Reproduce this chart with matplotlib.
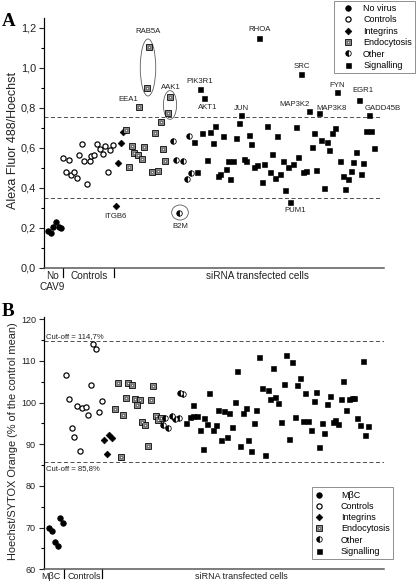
import matplotlib
matplotlib.use('Agg')
import matplotlib.pyplot as plt
from matplotlib.lines import Line2D
from matplotlib.patches import Ellipse

plt.rcParams['font.family'] = ['Liberation Sans', 'DejaVu Sans']

# ---------------- Panel A data ----------------
a_novirus_x = [4, 7, 9, 12, 15, 17]
a_novirus_y = [0.185, 0.175, 0.205, 0.23, 0.205, 0.20]

a_ctrl_x = [19.3, 25, 22, 27, 30.3, 32.7, 35, 37.7, 39.7, 43, 45.7, 47.3, 50.3, 53.3, 56, 58.7, 61.3, 63.7, 66.3, 69]
a_ctrl_y = [0.549, 0.54, 0.479, 0.464, 0.48, 0.45, 0.565, 0.62, 0.537, 0.42, 0.535, 0.562, 0.564, 0.619, 0.595,
            0.569, 0.61, 0.482, 0.59, 0.615]

a_int_x = [72, 74.3, 76.7, 78.7]
a_int_y = [0.31, 0.524, 0.624, 0.679]

a_endo_x = [105.3, 103, 95.3, 126, 123.7, 116.5, 82, 110.5, 87.5, 100.3, 118.5, 90, 93.5, 98, 121.3, 84.7, 108.2, 113.5]
a_endo_y = [1.107, 0.902, 0.805, 0.857, 0.777, 0.732, 0.688, 0.674, 0.612, 0.604, 0.597, 0.573, 0.565, 0.544,
            0.534, 0.507, 0.478, 0.487]

a_other_x = [128.7, 145, 131.7, 139.2, 142.5, 146.8, 135]
a_other_y = [0.635, 0.659, 0.541, 0.537, 0.445, 0.474, 0.277]

a_sig_x = [194.5, 171, 165.5, 157.7, 150.2, 168.5, 178.7, 191.5, 204.7, 207.2, 222.7, 233.3, 228.2, 162.8, 184,
           189.2, 199.5, 202.3, 182, 210.2, 212.7, 220.3, 238.5, 243.5, 225.5, 236, 231, 152.7, 176, 174, 186.3,
           217.7, 241.2, 251.7, 269.8, 288.3, 290.5, 322, 327, 277.3, 283, 267.5, 285.3, 330, 311.5, 254.2, 249,
           259.3, 262, 272.3, 296, 309, 319.3, 306.5, 298.5, 303.7, 316.7, 280.3, 301]
a_sig_y = [0.727, 0.71, 0.682, 0.674, 0.629, 0.625, 0.659, 0.648, 0.665, 0.619, 0.711, 0.659, 0.569, 0.542, 0.533,
           0.536, 0.547, 0.534, 0.495, 0.507, 0.513, 0.52, 0.534, 0.503, 0.482, 0.471, 0.451, 0.482, 0.469, 0.459,
           0.445, 0.429, 0.39, 0.707, 0.677, 0.677, 0.698, 0.684, 0.684, 0.638, 0.628, 0.603, 0.588, 0.6, 0.579,
           0.555, 0.519, 0.48, 0.487, 0.492, 0.534, 0.531, 0.524, 0.485, 0.459, 0.445, 0.468, 0.399, 0.395]

# labelled genes (name, x, value)
a_gene_names = ['RAB5A', 'EEA1', 'AAK1', 'PIK3R1', 'AKT1', 'RHOA', 'SRC', 'FYN', 'EGR1', 'MAP3K2', 'MAP3K8',
                'GADD45B', 'JUN', 'PUM1', 'ITGB6', 'B2M']
a_gene_x = [105.3, 95.3, 126, 155.5, 160.3, 215, 256.7, 293, 314.7, 264.7, 275, 324.5, 197, 246.2, 72, 135]
a_gene_y = [1.107, 0.805, 0.857, 0.894, 0.848, 1.149, 0.969, 0.882, 0.84, 0.784, 0.774, 0.765, 0.764, 0.33, 0.31, 0.277]
a_gene_is_sig = [False, False, False, True, True, True, True, True, True, True, True, True, True, True, False, False]
# label offsets in points (layout)
a_gene_off = [(-1, 15), (-11, 7), (1, 9.5), (0, 8), (3, -9.5), (1, 9), (1, 8), (0, 6.5), (4, 9), (-14, 7),
              (13, 5), (14, 6), (0, 6.5), (5, -9), (-1, -10.5), (1, -13.5)]

a_cut_hi, a_cut_lo = 0.755, 0.35
a_yticks = [0.0, 0.2, 0.4, 0.6, 0.8, 1.0, 1.2]
a_yticklabels = ['0,0', '0,2', '0,4', '0,6', '0,8', '1,0', '1,2']
a_legend = ['No virus', 'Controls', 'Integrins', 'Endocytosis', 'Other', 'Signalling']

# ---------------- Panel B data ----------------
b_mbc_x = [5.3, 8.3, 11, 13.7, 16.3, 19]
b_mbc_y = [70.0, 69.3, 66.6, 65.7, 72.2, 71.2]

b_ctrl_x = [22, 25, 27.7, 30.3, 33, 36, 38, 41.5, 44, 46.7, 49, 51.8, 54.8, 57.7]
b_ctrl_y = [106.7, 100.8, 94.0, 91.8, 99.2, 88.3, 98.6, 99.0, 97.05, 104.3, 114.0, 112.8, 97.7, 100.4]

b_int_x = [60, 63, 64.5, 68]
b_int_y = [91.0, 87.65, 92.1, 91.6]

b_endo_x = [73.5, 84.3, 87.7, 109.2, 82.2, 90.5, 95.7, 92.8, 106.5, 71.2, 79.3, 98.3, 101.2, 111.5, 114, 117.3, 103.5, 76.7]
b_endo_y = [104.75, 104.75, 104.15, 103.96, 101.0, 100.8, 100.65, 99.3, 100.7, 98.5, 96.9, 95.4, 94.56, 96.8, 95.9,
            96.2, 89.5, 86.9]

b_other_x = [121, 119, 124, 128, 130.5, 135, 136, 139]
b_other_y = [96.3, 94.7, 93.9, 96.8, 96.0, 96.2, 102.4, 102.0]

b_sig_x = [149.3, 141.7, 146, 149.3, 152.7, 160, 163.3, 155.5, 165.3, 158.5, 215, 242.3, 247.7, 318.7, 193.3, 228.7,
           255.7, 299.3, 239.7, 253.3, 217.7, 223.7, 261.3, 272, 226, 231.3, 234, 269.7, 285.7, 283, 296.7, 305,
           307.7, 310, 190.7, 174.3, 180, 185.3, 201.7, 198.7, 212.3, 302.3, 250.7, 258.7, 263.7, 237, 209.7, 277.7,
           288.7, 291.3, 294, 313, 316, 323.7, 171.7, 169.3, 188, 266.7, 280.2, 321, 182.5, 177, 204.3, 245, 196,
           207, 221, 275]
b_sig_y = [99.4, 95.2, 96.6, 96.8, 96.8, 96.4, 94.8, 93.5, 102.2, 88.8, 111.0, 111.3, 109.7, 110.0, 107.55, 108.3,
           105.9, 105.1, 104.5, 104.2, 103.4, 103.1, 102.3, 102.6, 100.8, 101.3, 99.9, 100.4, 101.6, 99.7, 100.8,
           100.8, 101.15, 101.1, 100.2, 98.2, 97.9, 97.55, 98.75, 97.4, 98.3, 98.1, 96.5, 95.6, 95.5, 95.4, 95.2,
           95.2, 95.25, 95.9, 94.8, 96.35, 94.6, 94.3, 94.7, 93.5, 94.2, 93.5, 92.8, 92.2, 91.7, 91.1, 90.9, 91.25,
           89.6, 88.4, 87.4, 89.4]

b_cut_hi, b_cut_lo = 114.7, 85.8
b_yticks = [60, 70, 80, 90, 100, 110, 120]
b_legend = ['M\u03b2C', 'Controls', 'Integrins', 'Endocytosis', 'Other', 'Signalling']

# ---------------- styles ----------------
MS_C = 5.5
MS_S = 5.0
filled_c = dict(marker='o', ms=MS_C, mfc='black', mec='black', mew=0.8, ls='none')
open_c = dict(marker='o', ms=MS_C - 0.3, mfc='white', mec='black', mew=1.2, ls='none')
diam = dict(marker='D', ms=4.8, mfc='black', mec='black', mew=0.6, ls='none')
endo_out = dict(marker='s', ms=MS_S + 0.5, mfc='#8a8a8a', mec='black', mew=0.8, ls='none')
endo_in = dict(marker='s', ms=2.0, mfc='white', mec='#333333', mew=0.5, ls='none')
other = dict(marker='o', ms=MS_C, mfc='black', mfcalt='white', fillstyle='left', mec='black', mew=0.8, ls='none')
sig = dict(marker='s', ms=MS_S, mfc='black', mec='black', mew=0.6, ls='none')

W, H = 416, 582
fig = plt.figure(figsize=(W / 72, H / 72), dpi=72)


def px_axes(left, top, right, bottom):
    return fig.add_axes([left / W, 1 - bottom / H, (right - left) / W, (bottom - top) / H])


def style_axes(ax, tick_fs):
    for s in ('top', 'right'):
        ax.spines[s].set_visible(False)
    ax.spines['left'].set_linewidth(1.2)
    ax.spines['bottom'].set_linewidth(1.5)
    ax.spines['bottom'].set_color('#555555')
    ax.set_xticks([])
    ax.tick_params(axis='y', which='major', length=5, width=1.1, labelsize=tick_fs, pad=3, colors='#222222')
    ax.tick_params(axis='y', which='minor', length=3, width=1.1)


def separators(ax, xs):
    for x in xs:
        ax.plot([x, x], [0, -0.036], transform=ax.get_xaxis_transform(), color='black', lw=1.2, clip_on=False)


def xcat(ax, x, txt, fs, dy=-9):
    ax.annotate(txt, xy=(x, 0), xycoords=('data', 'axes fraction'), xytext=(0, dy),
                textcoords='offset points', ha='center', va='center', fontsize=fs, color='#222222')


# ================= Panel A =================
axA = px_axes(44, 18, 384, 268)
style_axes(axA, 11)
axA.set_xlim(0, 340)
axA.set_ylim(0, 1.25)
axA.set_yticks(a_yticks)
axA.set_yticklabels(a_yticklabels)
axA.set_yticks([0.1, 0.3, 0.5, 0.7, 0.9, 1.1], minor=True)

axA.hlines([a_cut_hi, a_cut_lo], 0, 338, colors='#555555', linestyles=(0, (4, 2.5)), lw=1.0)

axA.plot(a_novirus_x, a_novirus_y, **filled_c)
axA.plot(a_ctrl_x, a_ctrl_y, **open_c)
axA.plot(a_int_x, a_int_y, **diam)
axA.plot(a_endo_x, a_endo_y, **endo_out)
axA.plot(a_endo_x, a_endo_y, **endo_in)
axA.plot(a_other_x, a_other_y, **other)
axA.plot(a_sig_x, a_sig_y, **sig)
axA.plot([x for x, s in zip(a_gene_x, a_gene_is_sig) if s],
         [y for y, s in zip(a_gene_y, a_gene_is_sig) if s], **sig)

for name, x, y, off in zip(a_gene_names, a_gene_x, a_gene_y, a_gene_off):
    axA.annotate(name, xy=(x, y), xytext=off, textcoords='offset points', ha='center', va='center',
                 fontsize=7.8, color='#222222')

for (cx, cy, w, h) in [(104, 1.0025, 15.5, 0.285), (126, 0.815, 13.3, 0.1435), (136, 0.2775, 16.7, 0.075)]:
    axA.add_patch(Ellipse((cx, cy), w, h, fill=False, ec='#555555', lw=0.8))

separators(axA, [19, 70])
xcat(axA, 8.5, 'No', 10, dy=-8.5)
xcat(axA, 8.5, 'CAV9', 10, dy=-19.5)
xcat(axA, 45.5, 'Controls', 10, dy=-8.5)
xcat(axA, 213.5, 'siRNA transfected cells', 10, dy=-8.5)

fig.text(13 / W, 1 - 140 / H, 'Alexa Fluor 488/Hoechst', rotation=90, ha='center', va='center',
         fontsize=12.5, color='#222222')
fig.text(8.5 / W, 1 - 21.5 / H, 'A', fontsize=19, fontweight='bold', family='Liberation Serif',
         ha='center', va='center')


def legend_handles():
    return [Line2D([], [], **filled_c), Line2D([], [], **open_c), Line2D([], [], **diam),
            (Line2D([], [], **endo_out), Line2D([], [], **endo_in)), Line2D([], [], **other),
            Line2D([], [], **sig)]


legA = fig.legend(legend_handles(), a_legend, loc='upper right', bbox_to_anchor=(415 / W, 1 - 1 / H),
                  borderaxespad=0, fontsize=9, frameon=True, fancybox=False, edgecolor='#777777',
                  borderpad=0.35, handlelength=2.3, handletextpad=0.55, labelspacing=0.26, numpoints=1)
legA.get_frame().set_linewidth(1.0)

# ================= Panel B =================
axB = px_axes(44, 316.7, 384.3, 569.3)
style_axes(axB, 9)
axB.set_xlim(0, 340.3)
axB.set_ylim(60, 120.6)
axB.set_yticks(b_yticks)
axB.set_yticks([65, 75, 85, 95, 105, 115], minor=True)

axB.hlines([b_cut_hi, b_cut_lo], 0, 341, colors='#555555', linestyles=(0, (4, 2.5)), lw=1.0)
axB.annotate('Cut-off = 114,7%', xy=(0, b_cut_hi), xytext=(2, 4.5), textcoords='offset points',
             ha='left', va='center', fontsize=7.7, color='#222222')
axB.annotate('Cut-off = 85,8%', xy=(0, b_cut_lo), xytext=(2.5, -7), textcoords='offset points',
             ha='left', va='center', fontsize=7.7, color='#222222')

axB.plot(b_mbc_x, b_mbc_y, **filled_c)
axB.plot(b_ctrl_x, b_ctrl_y, **open_c)
axB.plot(b_int_x, b_int_y, **diam)
axB.plot(b_endo_x, b_endo_y, **endo_out)
axB.plot(b_endo_x, b_endo_y, **endo_in)
axB.plot(b_other_x, b_other_y, **other)
axB.plot(b_sig_x, b_sig_y, **sig)

separators(axB, [20.3, 58.3])
xcat(axB, 6.5, 'M\u03b2C', 9, dy=-7.5)
xcat(axB, 40, 'Controls', 9, dy=-7.5)
xcat(axB, 197, 'siRNA transfected cells', 9, dy=-7.5)

fig.text(13 / W, 1 - 441 / H, 'Hoechst/SYTOX Orange (% of the control mean)', rotation=90, ha='center',
         va='center', fontsize=11, color='#222222')
fig.text(8.5 / W, 1 - 311 / H, 'B', fontsize=19, fontweight='bold', family='Liberation Serif',
         ha='center', va='center')

legB = fig.legend(legend_handles(), b_legend, loc='upper right', bbox_to_anchor=(393.3 / W, 1 - 487.3 / H),
                  borderaxespad=0, fontsize=9, frameon=True, fancybox=False, edgecolor='#777777',
                  borderpad=0.4, handlelength=0.75, handletextpad=2.1, labelspacing=0.24, numpoints=1)
legB.get_frame().set_linewidth(1.0)

fig.savefig('out.png', dpi=72)
